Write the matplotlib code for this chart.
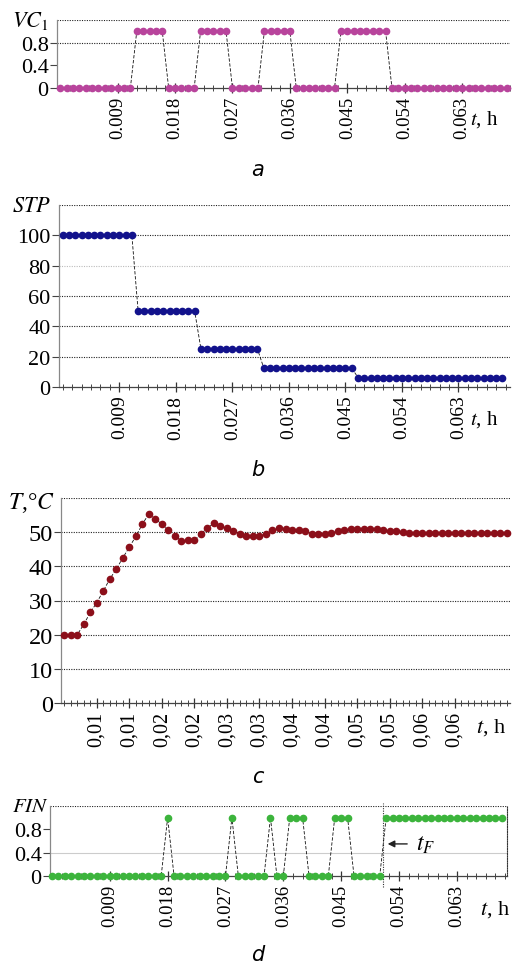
import numpy as np
import matplotlib
matplotlib.use('Agg')
import matplotlib.pyplot as plt
from matplotlib.ticker import FixedLocator, MultipleLocator

plt.rcParams['font.family'] = ['Liberation Serif', 'DejaVu Serif']
plt.rcParams['mathtext.fontset'] = 'stix'

dt = 0.001  # sampling step, h

# a) VC1 valve state
vc1 = [0, 0, 0, 0, 0, 0, 0, 0, 0, 0, 0, 0,
       1, 1, 1, 1, 1,
       0, 0, 0, 0, 0,
       1, 1, 1, 1, 1,
       0, 0, 0, 0, 0,
       1, 1, 1, 1, 1,
       0, 0, 0, 0, 0, 0, 0,
       1, 1, 1, 1, 1, 1, 1, 1,
       0, 0, 0, 0, 0, 0, 0, 0, 0, 0, 0, 0, 0, 0, 0, 0, 0, 0, 0]

# b) STP step size
stp = [100, 100, 100, 100, 100, 100, 100, 100, 100, 100, 100, 100,
       50, 50, 50, 50, 50, 50, 50, 50, 50, 50,
       25, 25, 25, 25, 25, 25, 25, 25, 25, 25,
       12.5, 12.5, 12.5, 12.5, 12.5, 12.5, 12.5, 12.5, 12.5, 12.5, 12.5, 12.5, 12.5, 12.5, 12.5,
       6.25, 6.25, 6.25, 6.25, 6.25, 6.25, 6.25, 6.25, 6.25, 6.25, 6.25, 6.25,
       6.25, 6.25, 6.25, 6.25, 6.25, 6.25, 6.25, 6.25, 6.25, 6.25, 6.25, 6.25]

# c) temperature, degC
temp = [20, 20, 20, 23.0, 26.5, 29.4, 32.8, 36.3, 39.2, 42.5, 45.6, 48.8, 52.3, 55.4,
        53.9, 52.3, 50.5, 49.0, 47.4, 47.6, 47.6, 49.5, 51.2, 52.6, 51.8, 51.1, 50.3,
        49.6, 48.8, 48.8, 48.8, 49.6, 50.5, 51.3, 51.0, 50.7, 50.7, 50.3, 49.5, 49.5,
        49.5, 49.7, 50.3, 50.7, 51.0, 51.0, 51.0, 51.0, 51.0, 50.7, 50.3, 50.3, 50.0,
        49.8, 49.8, 49.8, 49.8, 49.8, 49.8, 49.8, 49.8, 49.8, 49.8, 49.8, 49.8, 49.8,
        49.8, 49.8, 49.8]

# d) FIN flag
fin = [0, 0, 0, 0, 0, 0, 0, 0, 0, 0, 0, 0, 0, 0, 0, 0, 0, 0,
       1,
       0, 0, 0, 0, 0, 0, 0, 0, 0,
       1,
       0, 0, 0, 0, 0,
       1,
       0, 0,
       1, 1, 1,
       0, 0, 0, 0,
       1, 1, 1,
       0, 0, 0, 0, 0,
       1, 1, 1, 1, 1, 1, 1, 1, 1, 1, 1, 1, 1, 1, 1, 1, 1, 1, 1]
t_f = 0.0515

ticks_abd = [0.009, 0.018, 0.027, 0.036, 0.045, 0.054, 0.063]
labels_abd = ['0.009', '0.018', '0.027', '0.036', '0.045', '0.054', '0.063']
ticks_c = [0.005, 0.010, 0.015, 0.020, 0.025, 0.030, 0.035, 0.040, 0.045, 0.050, 0.055, 0.060]
labels_c = ['0,01', '0,01', '0,02', '0,02', '0,03', '0,03', '0,04', '0,04', '0,05', '0,05', '0,06', '0,06']

W, H = 514, 970
fig = plt.figure(figsize=(W / 100, H / 100), dpi=100)


def box(l, t, r, b):
    return [l / W, 1 - b / H, (r - l) / W, (b - t) / H]


def dotted(ax, y, color='#222', lw=0.8):
    ax.axhline(y, color=color, ls=(0, (1, 1.2)), lw=lw, zorder=1)


def setup(ax, xlim, ylim, yticks, ylabels, xticks, xlabels, minor, ysize=16, xsize=13.5):
    ax.set_xlim(*xlim)
    ax.set_ylim(*ylim)
    ax.set_yticks(yticks)
    ax.set_yticklabels(ylabels)
    ax.xaxis.set_major_locator(FixedLocator(xticks))
    ax.set_xticklabels(xlabels, rotation=90)
    ax.xaxis.set_minor_locator(MultipleLocator(minor))
    for s in ['top', 'right']:
        ax.spines[s].set_visible(False)
    ax.spines['left'].set_color('#888')
    ax.spines['left'].set_linewidth(0.9)
    ax.spines['bottom'].set_color('#444')
    ax.spines['bottom'].set_linewidth(0.9)
    ax.tick_params(axis='y', length=5, width=0.8, color='#444', labelsize=ysize, pad=1)
    ax.tick_params(axis='x', which='major', length=7, width=0.9, direction='inout',
                   color='#333', labelsize=xsize, pad=2)
    ax.tick_params(axis='x', which='minor', length=5, width=0.7, direction='inout', color='#444')


def series(ax, t, y, color):
    ax.plot(t, y, ls=(0, (4, 2)), color='#111', lw=0.6, zorder=2)
    ax.plot(t, y, 'o', ms=4.5, color=color, mec=color, zorder=3, clip_on=False)


# ---- a ----
ax = fig.add_axes(box(57, 21, 510, 89))
t = np.arange(len(vc1)) * dt
setup(ax, (-0.0005, 0.0705), (0, 1.2), [0, 0.4, 0.8], ['0', '0.4', '0.8'],
      ticks_abd, labels_abd, 0.0015)
dotted(ax, 0.8)
dotted(ax, 1.2)
series(ax, t, vc1, '#b8449c')
fig.text(12 / W, 1 - 21 / H, r'$VC_{\mathit{1}}$', fontsize=16, va='center', ha='left')
fig.text(470 / W, 1 - 120 / H, r'$t$, h', fontsize=15, va='center')
fig.text(258 / W, 1 - 170 / H, 'a', fontsize=15, style='italic', family='DejaVu Sans',
         ha='center', va='center')

# ---- b ----
ax = fig.add_axes(box(59, 206, 510, 388))
t = np.arange(len(stp)) * dt
setup(ax, (-0.0006, 0.0712), (0, 120), [0, 20, 40, 60, 80, 100],
      ['0', '20', '40', '60', '80', '100'], ticks_abd, labels_abd, 0.0015, xsize=14)
for v in [20, 40, 60, 100, 120]:
    dotted(ax, v)
dotted(ax, 80, color='#bbb')
series(ax, t, stp, '#12128c')
fig.text(12 / W, 1 - 208 / H, r'$STP$', fontsize=16, va='center', ha='left')
fig.text(470 / W, 1 - 420 / H, r'$t$, h', fontsize=15, va='center')
fig.text(258 / W, 1 - 470 / H, 'b', fontsize=15, style='italic', family='DejaVu Sans',
         ha='center', va='center')

# ---- c ----
ax = fig.add_axes(box(61, 499, 510, 704))
t = np.arange(len(temp)) * dt
setup(ax, (-0.0005, 0.0685), (0, 60), [0, 10, 20, 30, 40, 50],
      ['0', '10', '20', '30', '40', '50'], ticks_c, labels_c, 0.001, ysize=17.5, xsize=14.5)
for v in [10, 20, 30, 40, 50, 60]:
    dotted(ax, v)
series(ax, t, temp, '#8c0f1a')
fig.text(8 / W, 1 - 503 / H, r'$T$,°$C$', fontsize=17, va='center', ha='left')
fig.text(476 / W, 1 - 728 / H, r'$t$, h', fontsize=16, va='center')
fig.text(258 / W, 1 - 777 / H, 'c', fontsize=15, style='italic', family='DejaVu Sans',
         ha='center', va='center')

# ---- d ----
ax = fig.add_axes(box(50, 807, 507, 877))
t = np.arange(len(fin)) * dt
setup(ax, (-0.0003, 0.0708), (0, 1.2), [0, 0.4, 0.8], ['0', '0.4', '0.8'],
      ticks_abd, labels_abd, 0.0015)
ax.axhline(0.4, color='#ccc', lw=0.8, zorder=1)
dotted(ax, 1.2)
ax.spines['right'].set_visible(True)
ax.spines['right'].set_linestyle((0, (1, 1.2)))
ax.spines['right'].set_color('#333')
ax.axvline(t_f, color='#333', ls=(0, (1, 1.2)), lw=0.8, ymin=-0.15, ymax=1.05, clip_on=False)
series(ax, t, fin, '#3cb43c')
ax.annotate('', xy=(t_f + 0.0003, 0.55), xytext=(t_f + 0.0042, 0.55),
            arrowprops=dict(arrowstyle='-|>', color='#222', lw=1.0, mutation_scale=10))
ax.text(t_f + 0.0052, 0.55, r'$t_F$', fontsize=17, va='center', ha='left')
fig.text(12 / W, 1 - 807 / H, r'$FIN$', fontsize=15, va='center', ha='left')
fig.text(480 / W, 1 - 910 / H, r'$t$, h', fontsize=16, va='center')
fig.text(258 / W, 1 - 955 / H, 'd', fontsize=15, style='italic', family='DejaVu Sans',
         ha='center', va='center')

fig.savefig('out.png', dpi=100)
